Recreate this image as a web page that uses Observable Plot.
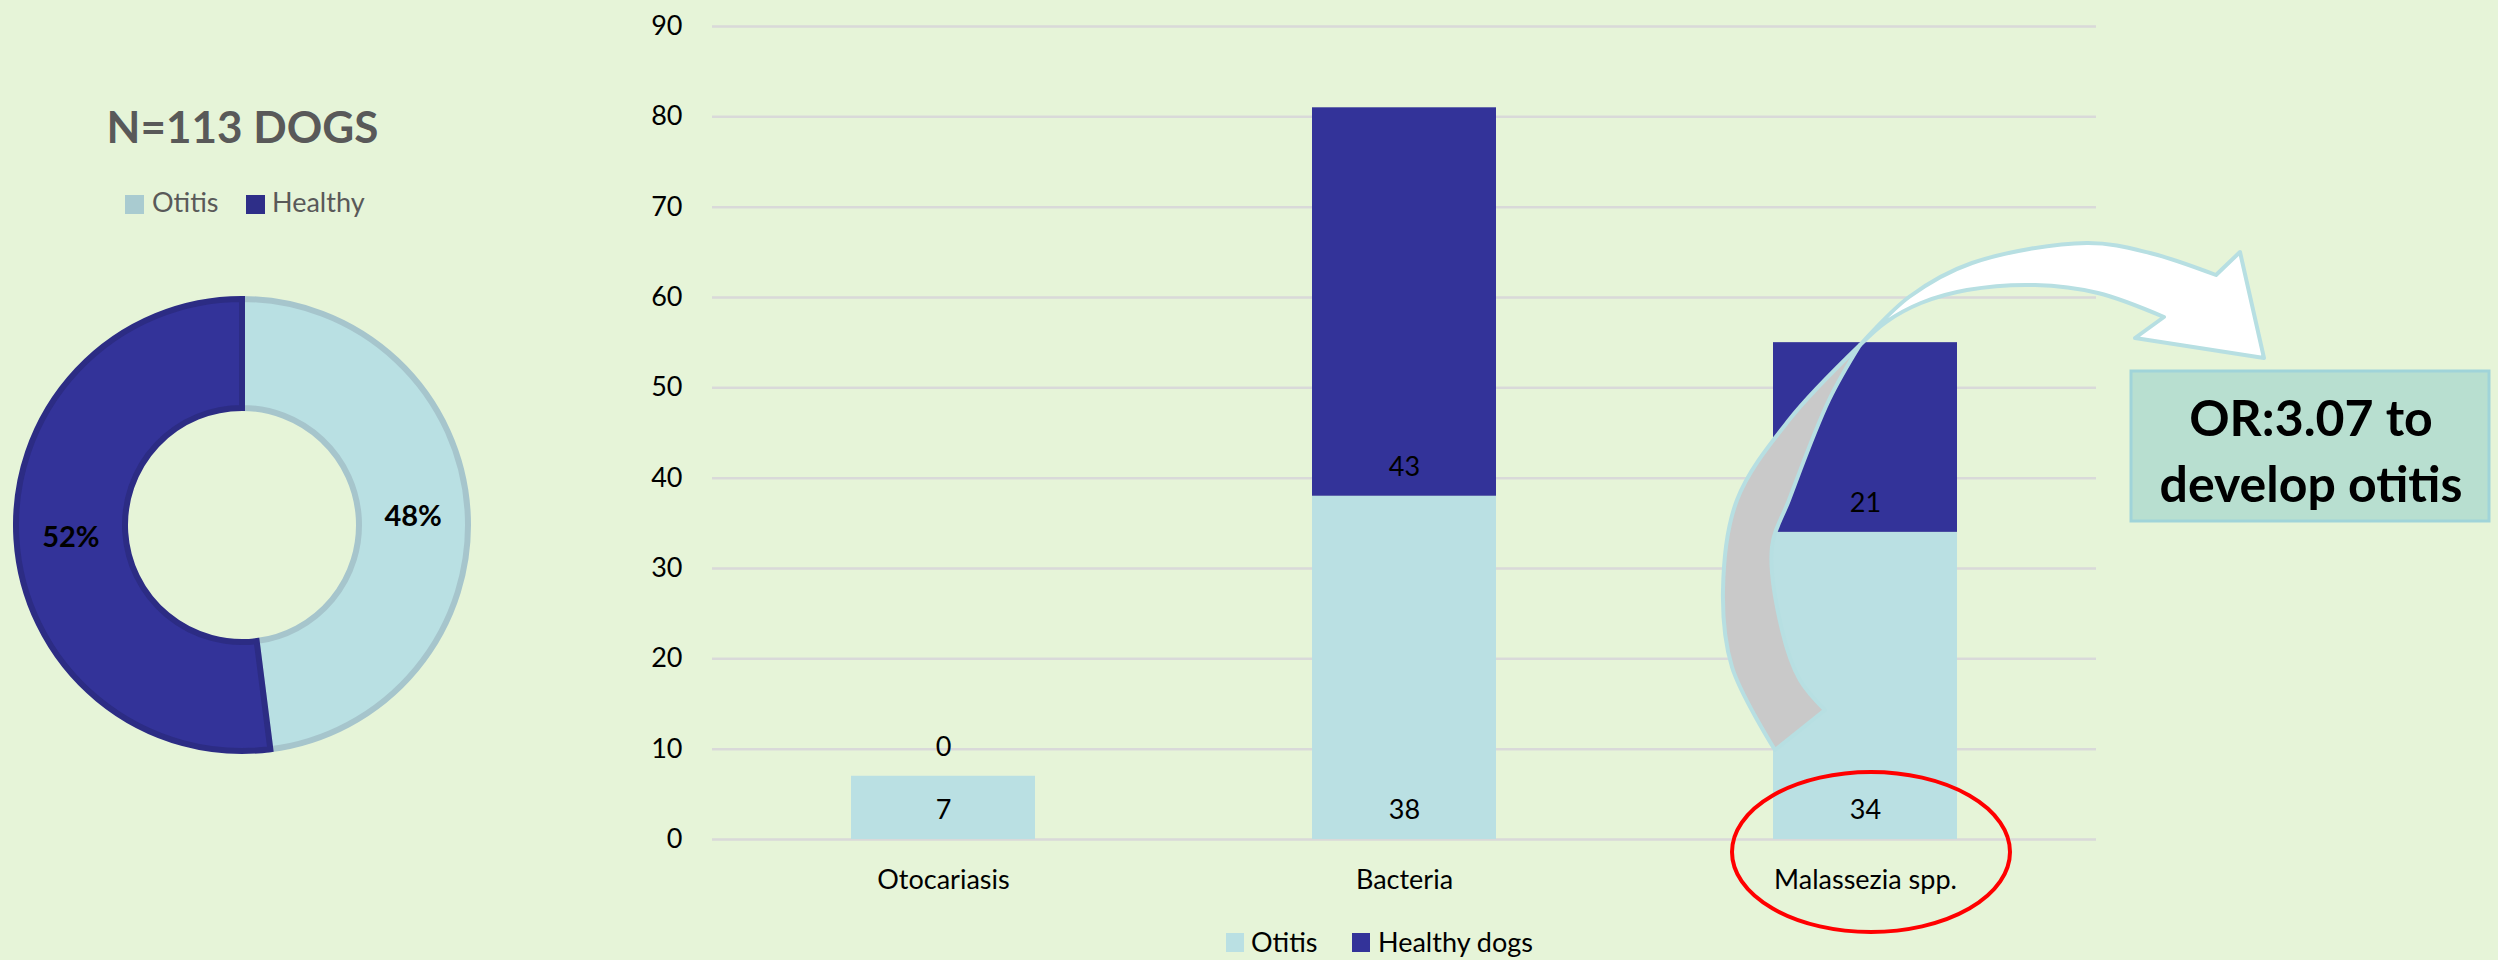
<!DOCTYPE html>
<html><head><meta charset="utf-8">
<script src="https://cdn.jsdelivr.net/npm/d3@7"></script>
<script src="https://cdn.jsdelivr.net/npm/@observablehq/plot@0.6"></script>
<style>
html,body{margin:0;padding:0;background:#e6f4d8;}
#wrap{position:relative;width:2498px;height:960px;background:#e6f4d8;font-family:Lato,"Open Sans",sans-serif;overflow:hidden}
#wrap svg{position:absolute;left:0;top:0}
.title{position:absolute;left:0;width:485px;top:96px;text-align:center;font-weight:700;font-size:44px;color:#595959;line-height:60px;white-space:nowrap}
.sw{position:absolute;display:block}
.lt{position:absolute;font-size:27px;line-height:32px;white-space:nowrap}
</style></head>
<body>
<div id="wrap">
  <div class="title">N=113 DOGS</div>
  <span class="sw" style="left:125px;top:195px;width:19px;height:19px;background:#a9cbd0"></span>
  <span class="lt" style="left:152px;top:186px;color:#595959">Otitis</span>
  <span class="sw" style="left:246px;top:195px;width:19px;height:19px;background:#2e2e88"></span>
  <span class="lt" style="left:272px;top:186px;color:#595959">Healthy</span>
  <span class="sw" style="left:1226px;top:933px;width:18px;height:19px;background:#bae0e3"></span>
  <span class="lt" style="left:1251px;top:926px;color:#000">Otitis</span>
  <span class="sw" style="left:1352px;top:933px;width:18px;height:19px;background:#333399"></span>
  <span class="lt" style="left:1378px;top:926px;color:#000">Healthy dogs</span>
</div>
<script>
// ---- data ----
const categories = ["Otocariasis", "Bacteria", "Malassezia spp."];
const otitisCounts = [7, 38, 34];
const healthyCounts = [0, 43, 21];
const seriesNames = ["Otitis", "Healthy dogs"];
const seriesColors = ["#bae0e3", "#333399"];
const yTicks = [0, 10, 20, 30, 40, 50, 60, 70, 80, 90];
const donutLabels = ["Otitis", "Healthy"];
const donutValues = [48, 52];
const donutFill = ["#b9e0e3", "#333399"];
const donutStroke = ["#a6c5cc", "#2c2c84"];
const noteLines = ["OR:3.07 to", "develop otitis"];

// ---- table for the library ----
const rows = [];
categories.forEach((c, i) => {
  rows.push({category: c, series: seriesNames[0], value: otitisCounts[i], base: 0});
  rows.push({category: c, series: seriesNames[1], value: healthyCounts[i], base: otitisCounts[i]});
});

const FONT = "Lato, 'Open Sans', sans-serif";

// donut (custom render mark using d3 arcs)
function donutMark() {
  const g = d3.create("svg:g").attr("transform", "translate(242,525)");
  const pie = d3.pie().sort(null).value(d => d.v)(donutValues.map((v, i) => ({v, i})));
  const arc = d3.arc().innerRadius(117).outerRadius(226);
  g.selectAll("path").data(pie).join("path")
    .attr("d", arc)
    .attr("fill", d => donutFill[d.data.i])
    .attr("stroke", d => donutStroke[d.data.i])
    .attr("stroke-width", 6)
    .attr("stroke-linejoin", "miter");
  g.selectAll("text").data(pie).join("text")
    .attr("x", d => arc.centroid(d)[0])
    .attr("y", d => arc.centroid(d)[1])
    .attr("text-anchor", "middle")
    .attr("dominant-baseline", "central")
    .attr("font-family", FONT)
    .attr("font-weight", 700)
    .attr("font-size", 29)
    .attr("fill", "#000")
    .text(d => d.data.v + "%");
  return g.node();
}

// annotation: curved arrow, box, red ellipse
function annotationMark() {
  const g = d3.create("svg:g");
  const curve = d3.line().curve(d3.curveCatmullRom.alpha(0.5));
  const T = [1860, 345];
  const grayOuter = [[1775,750],[1732,667],[1723,590],[1737,500],[1789,420],T];
  const grayInner = [T,[1829,400],[1789,500],[1772,547],[1782,630],[1800,680],[1825,710]];
  const grayPath = curve(grayOuter) + curve(grayInner).replace(/^M/, "L") + "Z";
  const whiteOuter = [T,[1909,297],[1972,263],[2087,243],[2150,253],[2216,275]];
  const head = "L2240,252L2264,358L2135,338L2164,317";
  const whiteInner = [[2164,317],[2098,293],[2035,285],[1967,290],[1921,303],[1886,322],T];
  const whitePath = curve(whiteOuter) + head + curve(whiteInner).replace(/^M/, "L") + "Z";
  g.append("path").attr("d", grayPath).attr("fill", "#c9c9c9")
    .attr("stroke", "#b7dfe2").attr("stroke-width", 4).attr("stroke-linejoin", "round");
  g.append("path").attr("d", whitePath).attr("fill", "#ffffff")
    .attr("stroke", "#b7dfe2").attr("stroke-width", 4).attr("stroke-linejoin", "round");
  g.append("rect").attr("x", 2131).attr("y", 371).attr("width", 358).attr("height", 150)
    .attr("fill", "#b8dfd0").attr("stroke", "#a0d4d9").attr("stroke-width", 3);
  g.selectAll("text").data(noteLines).join("text")
    .attr("x", 2311).attr("y", (d, i) => 417 + i * 66)
    .attr("text-anchor", "middle").attr("dominant-baseline", "central")
    .attr("font-family", FONT).attr("font-weight", 700).attr("font-size", 50)
    .attr("fill", "#000").text(d => d);
  g.append("ellipse").attr("cx", 1871).attr("cy", 852).attr("rx", 139).attr("ry", 80)
    .attr("fill", "none").attr("stroke", "#ff0000").attr("stroke-width", 4);
  return g.node();
}

const chart = Plot.plot({
  width: 2498,
  height: 960,
  marginLeft: 712,
  marginRight: 402,
  marginTop: 26,
  marginBottom: 121,
  style: {background: "transparent", fontFamily: FONT, fontSize: "27px", color: "#000", overflow: "visible"},
  x: {domain: categories, paddingInner: 0.6, paddingOuter: 0.3, tickSize: 0, tickPadding: 30, label: null},
  y: {domain: [0, 90], ticks: yTicks, tickSize: 0, tickPadding: 30, label: null},
  color: {domain: seriesNames, range: seriesColors},
  marks: [
    Plot.ruleY(yTicks, {stroke: "#d9d9d9", strokeWidth: 2.5}),
    Plot.barY(rows, {x: "category", y: "value", fill: "series"}),
    Plot.text(rows, {x: "category", y: "base", text: d => String(d.value), dy: -29, fontSize: 27, fill: "#000"}),
    donutMark,
    annotationMark
  ]
});
document.getElementById("wrap").appendChild(chart);
</script>
</body></html>
